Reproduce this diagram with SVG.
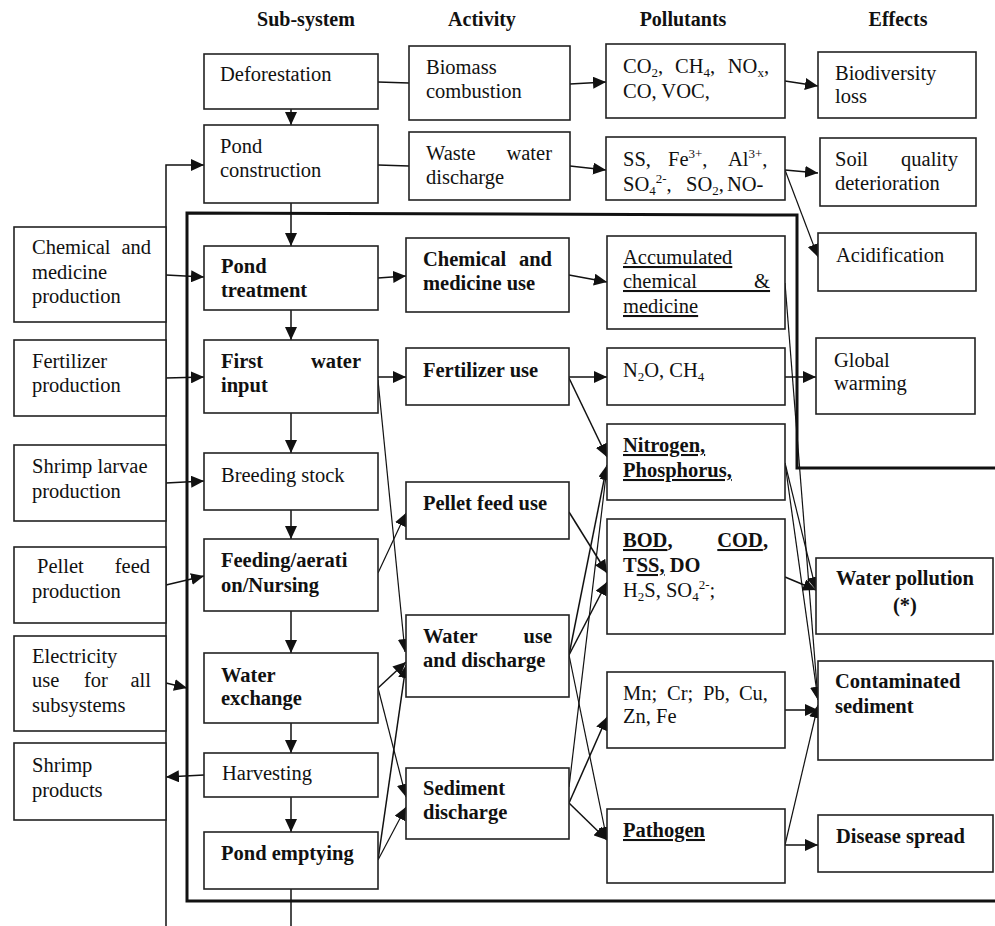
<svg xmlns="http://www.w3.org/2000/svg" width="995" height="926" viewBox="0 0 995 926">
<defs>
<style>
text{font-family:"Liberation Serif","Times New Roman",serif;font-size:20.5px;fill:#111}
.h{font-weight:bold;font-size:20px}
.b{font-weight:bold}
.u{text-decoration:underline}
.box{fill:#fff;stroke:#222;stroke-width:1.6}
.ln{fill:none;stroke:#111;stroke-width:1.5}
.thin{fill:none;stroke:#111;stroke-width:1.2}
.frame{fill:none;stroke:#111;stroke-width:3}
.s{font-size:13px}
</style>
<marker id="a" markerUnits="userSpaceOnUse" markerWidth="14" markerHeight="12" refX="13" refY="6" orient="auto"><path d="M0,0 L13,6 L0,12 z" fill="#111"/></marker>
</defs>
<rect width="995" height="926" fill="#fff"/>
<g id="headers">
<text class="h" x="306" y="26" text-anchor="middle">Sub-system</text>
<text class="h" x="482" y="26" text-anchor="middle">Activity</text>
<text class="h" x="683" y="26" text-anchor="middle">Pollutants</text>
<text class="h" x="898" y="26" text-anchor="middle">Effects</text>
</g>
<g id="frame"><path class="frame" d="M995,468 L797,468 L797,215 L187,213 L187,901 L995,901"/></g>
<g id="connectors">
<path class="ln" d="M166,926 L166,165 L204,165" marker-end="url(#a)"/>
<path class="ln" d="M291,889 L291,926"/>
<path class="ln" d="M291,109 L291,125" marker-end="url(#a)"/>
<path class="ln" d="M291,203 L291,246" marker-end="url(#a)"/>
<path class="ln" d="M291,310 L291,340" marker-end="url(#a)"/>
<path class="ln" d="M291,413 L291,453" marker-end="url(#a)"/>
<path class="ln" d="M291,510 L291,539" marker-end="url(#a)"/>
<path class="ln" d="M291,611 L291,653" marker-end="url(#a)"/>
<path class="ln" d="M291,723 L291,753" marker-end="url(#a)"/>
<path class="ln" d="M291,797 L291,832" marker-end="url(#a)"/>
<path class="ln" d="M378,82 L409,83"/>
<path class="ln" d="M378,165 L409,166"/>
<path class="ln" d="M570,84 L606,82" marker-end="url(#a)"/>
<path class="ln" d="M570,166 L606,170" marker-end="url(#a)"/>
<path class="ln" d="M785,81 L818,86" marker-end="url(#a)"/>
<path class="ln" d="M785,170 L818,173" marker-end="url(#a)"/>
<path class="thin" d="M785,170 L818,257" marker-end="url(#a)"/>
<path class="ln" d="M166,275 L204,277" marker-end="url(#a)"/>
<path class="ln" d="M166,378 L204,377" marker-end="url(#a)"/>
<path class="ln" d="M166,483 L204,481" marker-end="url(#a)"/>
<path class="ln" d="M166,585 L204,576" marker-end="url(#a)"/>
<path class="ln" d="M166,683 L187,688" marker-end="url(#a)"/>
<path class="ln" d="M204,775 L166,777" marker-end="url(#a)"/>
<path class="ln" d="M378,278 L406,276" marker-end="url(#a)"/>
<path class="ln" d="M569,275 L607,282" marker-end="url(#a)"/>
<path class="ln" d="M378,377 L406,377" marker-end="url(#a)"/>
<path class="thin" d="M378,380 L405,652" marker-end="url(#a)"/>
<path class="ln" d="M569,377 L607,377" marker-end="url(#a)"/>
<path class="ln" d="M569,378 L607,457" marker-end="url(#a)"/>
<path class="thin" d="M378,573 L406,513" marker-end="url(#a)"/>
<path class="ln" d="M378,688 L406,662" marker-end="url(#a)"/>
<path class="thin" d="M378,688 L406,797" marker-end="url(#a)"/>
<path class="ln" d="M378,860 L406,665" marker-end="url(#a)"/>
<path class="thin" d="M378,860 L406,807" marker-end="url(#a)"/>
<path class="ln" d="M569,512 L607,573" marker-end="url(#a)"/>
<path class="ln" d="M569,655 L607,465" marker-end="url(#a)"/>
<path class="ln" d="M569,655 L607,582" marker-end="url(#a)"/>
<path class="thin" d="M569,655 L607,840" marker-end="url(#a)"/>
<path class="thin" d="M569,787 L607,467" marker-end="url(#a)"/>
<path class="ln" d="M569,803 L607,717" marker-end="url(#a)"/>
<path class="ln" d="M569,803 L607,840" marker-end="url(#a)"/>
<path class="ln" d="M785,377 L816,377" marker-end="url(#a)"/>
<path class="thin" d="M785,283 L818,700" marker-end="url(#a)"/>
<path class="thin" d="M785,463 L816,590" marker-end="url(#a)"/>
<path class="thin" d="M785,463 L818,700" marker-end="url(#a)"/>
<path class="ln" d="M785,577 L816,590" marker-end="url(#a)"/>
<path class="ln" d="M785,710 L818,710" marker-end="url(#a)"/>
<path class="thin" d="M785,845 L818,705" marker-end="url(#a)"/>
<path class="ln" d="M785,845 L818,845" marker-end="url(#a)"/>
</g>
<g id="deforestation"><rect class="box" x="204" y="54" width="174" height="55"/><text x="220" y="81">Deforestation</text></g>
<g id="pond-construction"><rect class="box" x="204" y="125" width="174" height="78"/><text x="220" y="153">Pond</text><text x="220" y="177">construction</text></g>
<g id="pond-treatment"><rect class="box" x="204" y="246" width="174" height="64"/><text class="b" x="221" y="273">Pond</text><text class="b" x="221" y="297">treatment</text></g>
<g id="first-water-input"><rect class="box" x="204" y="340" width="174" height="73"/><text class="b" x="221" y="368">First</text><text class="b" x="361" y="368" text-anchor="end">water</text><text class="b" x="221" y="392">input</text></g>
<g id="breeding-stock"><rect class="box" x="204" y="453" width="174" height="57"/><text x="221" y="482">Breeding stock</text></g>
<g id="feeding"><rect class="box" x="204" y="539" width="174" height="72"/><text class="b" x="221" y="567">Feeding/aerati</text><text class="b" x="221" y="592">on/Nursing</text></g>
<g id="water-exchange"><rect class="box" x="204" y="653" width="174" height="70"/><text class="b" x="221" y="682">Water</text><text class="b" x="221" y="705">exchange</text></g>
<g id="harvesting"><rect class="box" x="204" y="753" width="174" height="44"/><text x="222" y="780">Harvesting</text></g>
<g id="pond-emptying"><rect class="box" x="204" y="832" width="174" height="57"/><text class="b" x="221" y="860">Pond emptying</text></g>
<g id="chemical-production"><rect class="box" x="14" y="227" width="152" height="95"/><text x="32" y="254">Chemical</text><text x="151" y="254" text-anchor="end">and</text><text x="32" y="279">medicine</text><text x="32" y="303">production</text></g>
<g id="fertilizer-production"><rect class="box" x="14" y="340" width="152" height="76"/><text x="32" y="368">Fertilizer</text><text x="32" y="392">production</text></g>
<g id="larvae-production"><rect class="box" x="14" y="445" width="152" height="76"/><text x="32" y="473">Shrimp larvae</text><text x="32" y="498">production</text></g>
<g id="pellet-production"><rect class="box" x="14" y="547" width="152" height="76"/><text x="37" y="573">Pellet</text><text x="150" y="573" text-anchor="end">feed</text><text x="32" y="598">production</text></g>
<g id="electricity"><rect class="box" x="14" y="636" width="152" height="95"/><text x="32" y="663">Electricity</text><text x="32" y="687">use</text><text x="96" y="687" text-anchor="middle">for</text><text x="151" y="687" text-anchor="end">all</text><text x="32" y="712">subsystems</text></g>
<g id="shrimp-products"><rect class="box" x="14" y="743" width="152" height="77"/><text x="32" y="772">Shrimp</text><text x="32" y="797">products</text></g>
<g id="biomass"><rect class="box" x="409" y="46" width="161" height="74"/><text x="426" y="74">Biomass</text><text x="426" y="98">combustion</text></g>
<g id="waste-water"><rect class="box" x="409" y="132" width="161" height="68"/><text x="426" y="160">Waste</text><text x="552" y="160" text-anchor="end">water</text><text x="426" y="184">discharge</text></g>
<g id="chemical-use"><rect class="box" x="406" y="238" width="163" height="74"/><text class="b" x="423" y="266">Chemical</text><text class="b" x="552" y="266" text-anchor="end">and</text><text class="b" x="423" y="290">medicine use</text></g>
<g id="fertilizer-use"><rect class="box" x="406" y="348" width="163" height="57"/><text class="b" x="423" y="377">Fertilizer use</text></g>
<g id="pellet-use"><rect class="box" x="406" y="482" width="163" height="57"/><text class="b" x="423" y="510">Pellet feed use</text></g>
<g id="water-use"><rect class="box" x="406" y="615" width="163" height="82"/><text class="b" x="423" y="643">Water</text><text class="b" x="552" y="643" text-anchor="end">use</text><text class="b" x="423" y="667">and discharge</text></g>
<g id="sediment-discharge"><rect class="box" x="406" y="768" width="163" height="71"/><text class="b" x="423" y="795">Sediment</text><text class="b" x="423" y="819">discharge</text></g>
<g id="combustion-gases"><rect class="box" x="606" y="44" width="179" height="74"/><text x="623" y="73">CO<tspan class="s" dy="4">2</tspan><tspan dy="-4">,</tspan></text><text x="675" y="73">CH<tspan class="s" dy="4">4</tspan><tspan dy="-4">,</tspan></text><text x="769" y="73" text-anchor="end">NO<tspan class="s" dy="4">x</tspan><tspan dy="-4">,</tspan></text><text x="623" y="98">CO, VOC,</text></g>
<g id="soil-pollutants"><rect class="box" x="606" y="137" width="179" height="63"/><text x="623" y="166">SS,</text><text x="668" y="166">Fe<tspan class="s" dy="-8">3+</tspan><tspan dy="8">,</tspan></text><text x="728" y="166">Al<tspan class="s" dy="-8">3+</tspan><tspan dy="8">,</tspan></text><text x="623" y="191">SO<tspan class="s" dy="4">4</tspan><tspan class="s" dy="-12">2-</tspan><tspan dy="8">,</tspan></text><text x="686" y="191">SO<tspan class="s" dy="4">2</tspan><tspan dy="-4">,</tspan></text><text x="727" y="191">NO-</text></g>
<g id="accumulated"><rect class="box" x="607" y="236" width="178" height="93"/><text class="u" x="623" y="264">Accumulated</text><text class="u" x="623" y="288" word-spacing="52">chemical &amp;</text><text class="u" x="623" y="313">medicine</text></g>
<g id="greenhouse"><rect class="box" x="607" y="348" width="178" height="57"/><text x="623" y="377">N<tspan class="s" dy="4">2</tspan><tspan dy="-4">O, CH</tspan><tspan class="s" dy="4">4</tspan></text></g>
<g id="nutrients"><rect class="box" x="607" y="424" width="178" height="76"/><text class="b u" x="623" y="452">Nitrogen,</text><text class="b u" x="623" y="477">Phosphorus,</text></g>
<g id="organic"><rect class="box" x="607" y="519" width="178" height="115"/><text class="b" x="623" y="547"><tspan class="u">BOD</tspan>,</text><text class="b" x="768" y="547" text-anchor="end"><tspan class="u">COD</tspan>,</text><text class="b" x="623" y="572">T<tspan class="u">SS,</tspan> DO</text><text x="623" y="597">H<tspan class="s" dy="4">2</tspan><tspan dy="-4">S,  SO</tspan><tspan class="s" dy="4">4</tspan><tspan class="s" dy="-12">2-</tspan><tspan dy="8">;</tspan></text></g>
<g id="metals"><rect class="box" x="607" y="672" width="178" height="76"/><text x="623" y="700">Mn;</text><text x="667" y="700">Cr;</text><text x="703" y="700">Pb,</text><text x="768" y="700" text-anchor="end">Cu,</text><text x="623" y="723">Zn, Fe</text></g>
<g id="pathogen"><rect class="box" x="607" y="809" width="178" height="74"/><text class="b u" x="623" y="837">Pathogen</text></g>
<g id="biodiversity"><rect class="box" x="818" y="52" width="158" height="66"/><text x="835" y="80">Biodiversity</text><text x="835" y="103">loss</text></g>
<g id="soil-quality"><rect class="box" x="820" y="138" width="156" height="68"/><text x="835" y="166">Soil</text><text x="958" y="166" text-anchor="end">quality</text><text x="835" y="190">deterioration</text></g>
<g id="acidification"><rect class="box" x="818" y="233" width="158" height="58"/><text x="836" y="262">Acidification</text></g>
<g id="global-warming"><rect class="box" x="816" y="338" width="159" height="76"/><text x="834" y="367">Global</text><text x="834" y="390">warming</text></g>
<g id="water-pollution"><rect class="box" x="816" y="558" width="177" height="76"/><text class="b" x="905" y="585" text-anchor="middle">Water pollution</text><text class="b" x="905" y="612" text-anchor="middle">(*)</text></g>
<g id="contaminated-sediment"><rect class="box" x="818" y="661" width="175" height="99"/><text class="b" x="835" y="688">Contaminated</text><text class="b" x="835" y="713">sediment</text></g>
<g id="disease-spread"><rect class="box" x="818" y="815" width="175" height="57"/><text class="b" x="836" y="843">Disease spread</text></g>
</svg>
